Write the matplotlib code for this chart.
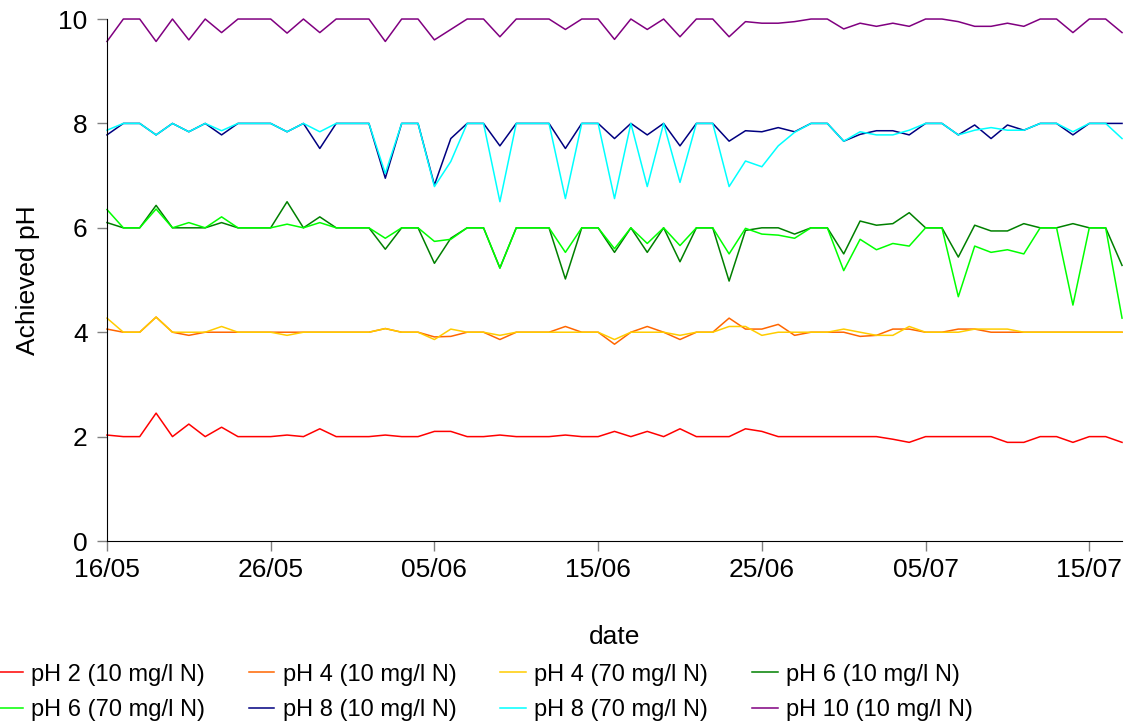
import matplotlib
matplotlib.use("Agg")
import matplotlib.pyplot as plt
import matplotlib.dates as mdates
import numpy as np
import pandas as pd

dates = pd.date_range("2006-05-16", periods=63, freq="D")

ph2_10 = [2.03, 2, 2, 2.45, 2, 2.24, 2, 2.18, 2, 2, 2, 2.03, 2, 2.15, 2, 2, 2, 2.03, 2, 2, 2.1,
          2.1, 2, 2, 2.03, 2, 2, 2, 2.03, 2, 2, 2.1, 2, 2.1, 2, 2.15, 2, 2, 2, 2.15, 2.1,
          2, 2, 2, 2, 2, 2, 2, 1.95, 1.89, 2, 2, 2, 2, 2, 1.89, 1.89, 2, 2, 1.89, 2, 2, 1.89]
ph4_10 = [4.06, 4, 4, 4.29, 4, 3.94, 4, 4, 4, 4, 4, 4, 4, 4, 4, 4, 4, 4.07, 4, 4, 3.91,
          3.92, 4, 4, 3.86, 4, 4, 4, 4.11, 4, 4, 3.77, 4, 4.11, 4, 3.86, 4, 4, 4.27, 4.06, 4.06,
          4.15, 3.94, 4, 4, 4, 3.92, 3.94, 4.06, 4.06, 4, 4, 4.06, 4.06, 4, 4, 4, 4, 4, 4, 4, 4, 4]
ph4_70 = [4.27, 4, 4, 4.29, 4, 4, 4, 4.11, 4, 4, 4, 3.94, 4, 4, 4, 4, 4, 4.07, 4, 4, 3.86,
          4.06, 4, 4, 3.94, 4, 4, 4, 4, 4, 4, 3.86, 4, 4, 4, 3.94, 4, 4, 4.11, 4.11, 3.94,
          4, 4, 4, 4, 4.06, 4, 3.94, 3.94, 4.11, 4, 4, 4, 4.06, 4.06, 4.06, 4, 4, 4, 4, 4, 4, 4]
ph6_10 = [6.1, 6, 6, 6.43, 6, 6, 6, 6.1, 6, 6, 6, 6.5, 6, 6.21, 6, 6, 6, 5.59, 6, 6, 5.32,
          5.8, 6, 6, 5.23, 6, 6, 6, 5.02, 6, 6, 5.53, 6, 5.53, 6, 5.35, 6, 6, 4.98, 5.95, 6.0,
          6.0, 5.88, 6, 6, 5.5, 6.13, 6.05, 6.08, 6.29, 6, 6, 5.44, 6.05, 5.94, 5.94, 6.08, 6, 6, 6.08, 6, 6, 5.28]
ph6_70 = [6.35, 6, 6, 6.36, 6, 6.1, 6, 6.21, 6, 6, 6, 6.07, 6, 6.1, 6, 6, 6, 5.8, 6, 6, 5.74,
          5.78, 6, 6, 5.23, 6, 6, 6, 5.53, 6, 6, 5.6, 6, 5.7, 6, 5.66, 6, 6, 5.5, 5.99, 5.88,
          5.86, 5.8, 6, 6, 5.18, 5.78, 5.58, 5.7, 5.65, 6, 6, 4.68, 5.65, 5.53, 5.58, 5.5, 6, 6, 4.52, 6, 6, 4.27]
ph8_10 = [7.78, 8, 8, 7.78, 8, 7.84, 8, 7.78, 8, 8, 8, 7.84, 8, 7.52, 8, 8, 8, 6.95, 8, 8, 6.82,
          7.71, 8, 8, 7.57, 8, 8, 8, 7.52, 8, 8, 7.71, 8, 7.78, 8, 7.57, 8, 8, 7.66, 7.86, 7.84,
          7.92, 7.84, 8, 8, 7.66, 7.79, 7.86, 7.86, 7.78, 8, 8, 7.78, 7.97, 7.71, 7.97, 7.87, 8, 8, 7.78, 8, 8, 8]
ph8_70 = [7.87, 8, 8, 7.78, 8, 7.84, 8, 7.86, 8, 8, 8, 7.84, 8, 7.84, 8, 8, 8, 7.04, 8, 8, 6.79,
          7.27, 8, 8, 6.5, 8, 8, 8, 6.56, 8, 8, 6.56, 8, 6.79, 8, 6.87, 8, 8, 6.79, 7.28, 7.17,
          7.57, 7.83, 8, 8, 7.66, 7.84, 7.78, 7.78, 7.87, 8, 8, 7.78, 7.87, 7.92, 7.87, 7.87, 8, 8, 7.84, 8, 8, 7.71]
ph10_10 = [9.57, 10, 10, 9.57, 10, 9.6, 10, 9.74, 10, 10, 10, 9.73, 10, 9.74, 10, 10, 10, 9.57, 10, 10, 9.6,
           9.8, 10, 10, 9.66, 10, 10, 10, 9.8, 10, 10, 9.61, 10, 9.8, 10, 9.66, 10, 10, 9.66, 9.95, 9.92,
           9.92, 9.95, 10, 10, 9.81, 9.92, 9.86, 9.92, 9.86, 10, 10, 9.95, 9.86, 9.86, 9.92, 9.86, 10, 10, 9.74, 10, 10, 9.74]

series = [ph2_10, ph4_10, ph4_70, ph6_10, ph6_70, ph8_10, ph8_70, ph10_10]
labels = ["pH 2 (10 mg/l N)", "pH 4 (10 mg/l N)", "pH 4 (70 mg/l N)", "pH 6 (10 mg/l N)",
          "pH 6 (70 mg/l N)", "pH 8 (10 mg/l N)", "pH 8 (70 mg/l N)", "pH 10 (10 mg/l N)"]
colors = ["#FF0000", "#FF6600", "#FFCC00", "#008000", "#00FF00", "#000080", "#00FFFF", "#800080"]

plt.rcParams['font.family'] = ['Liberation Sans', 'DejaVu Sans']

fig = plt.figure(figsize=(11.32, 7.26), dpi=100)
ax = fig.add_axes([0.0945, 0.2548, 0.8967, 0.719])

lines = []
for vals, lab, col in zip(series, labels, colors):
    ln, = ax.plot(dates, vals, color=col, lw=1.1, label=lab, clip_on=False)
    lines.append(ln)

ax.set_ylim(0, 10)
ax.set_yticks(np.arange(0, 11, 2))
ax.set_xlim(dates[0], dates[-1])
ax.set_xticks(dates[::10])
ax.xaxis.set_major_formatter(mdates.DateFormatter("%d/%m"))

for s in ["top", "right"]:
    ax.spines[s].set_visible(False)
ax.tick_params(axis="both", direction="out", length=7, width=1, color="#808080", labelsize=19)
ax.tick_params(axis="x", pad=5)
ax.tick_params(axis="y", pad=7)

ax.set_xlabel("date", fontsize=19, labelpad=31)
ax.set_ylabel("Achieved pH", fontsize=19, labelpad=13)

# legend is filled column by column, so reorder to read row by row like the original
order = [0, 4, 1, 5, 2, 6, 3, 7]
fig.legend([lines[i] for i in order], [labels[i] for i in order],
           loc="upper left", bbox_to_anchor=(-0.003, 0.086), ncol=4, frameon=False,
           fontsize=17, handlelength=1.1, handletextpad=0.35, columnspacing=1.85,
           borderpad=0, borderaxespad=0, labelspacing=0.58)

fig.savefig("out.png", dpi=100)
